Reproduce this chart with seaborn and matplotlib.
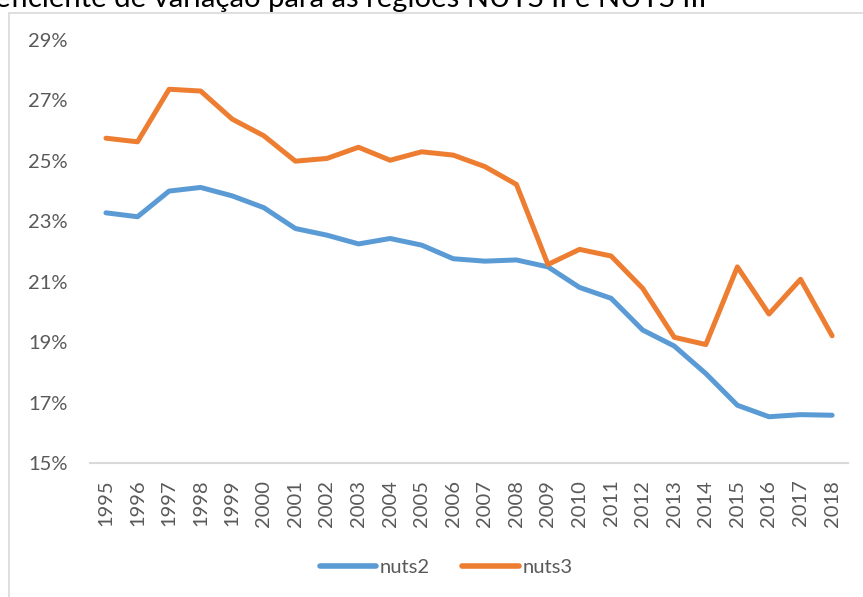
import pandas as pd
import matplotlib.pyplot as plt
import seaborn as sns
from matplotlib.patches import Rectangle

years = list(range(1995, 2019))
nuts2 = [23.28, 23.15, 24.00, 24.12, 23.84, 23.45, 22.76, 22.54, 22.25, 22.43, 22.21, 21.76,
         21.68, 21.72, 21.49, 20.81, 20.45, 19.40, 18.87, 17.96, 16.91, 16.53, 16.60, 16.58]
nuts3 = [25.75, 25.63, 27.37, 27.31, 26.38, 25.83, 24.99, 25.08, 25.45, 25.02, 25.30, 25.19,
         24.81, 24.22, 21.57, 22.07, 21.85, 20.78, 19.16, 18.92, 21.49, 19.93, 21.08, 19.21]
y_ticks = [15, 17, 19, 21, 23, 25, 27, 29]
title = "Coeficiente de variação para as regiões NUTS II e NUTS III"

df = pd.DataFrame({"ano": [str(y) for y in years] * 2,
                   "valor": nuts2 + nuts3,
                   "serie": ["nuts2"] * len(years) + ["nuts3"] * len(years)})

sns.set_style("white")
plt.rcParams["font.family"] = ["Lato", "DejaVu Sans"]
grey = "#595959"

f = plt.figure(figsize=(8.63, 5.97), dpi=100)
ax = f.add_axes([0.1045, 0.2245, 0.878, 0.7085])

sns.lineplot(data=df, x="ano", y="valor", hue="serie", palette=["#5B9BD5", "#ED7D31"],
             linewidth=3.6, sort=False, ax=ax)
for ln in ax.get_lines():
    ln.set_solid_capstyle("round")
    ln.set_solid_joinstyle("round")

ax.set_xlim(-0.5, len(years) - 0.5)
ax.set_ylim(15, 29)
ax.set_yticks(y_ticks)
ax.set_yticklabels([f"{t}%" for t in y_ticks])
ax.set_xlabel("")
ax.set_ylabel("")
ax.tick_params(axis="x", labelrotation=90, pad=12, length=0, labelsize=14.5, labelcolor=grey)
ax.tick_params(axis="y", pad=16, length=0, labelsize=14.5, labelcolor=grey)
for s in ["left", "right", "top"]:
    ax.spines[s].set_visible(False)
ax.spines["bottom"].set_color("#D9D9D9")
ax.spines["bottom"].set_linewidth(1.5)

leg = ax.legend(loc="center", bbox_to_anchor=(0.47, -0.246), ncol=2, frameon=False,
                fontsize=14.5, handlelength=2.8, handletextpad=0.2, columnspacing=1.6)
for t in leg.get_texts():
    t.set_color(grey)
for h in leg.get_lines():
    h.set_linewidth(4)
    h.set_solid_capstyle("round")

# chart area border, partly outside the image
f.patches.append(Rectangle((8.5 / 863, -0.05), 1.0, 1.05 - 12.5 / 597,
                           transform=f.transFigure, fill=False, edgecolor="#D9D9D9",
                           linewidth=1.2))
# title is cropped at the top edge in the original
f.text(707 / 863, 1 - 7.5 / 597, title, ha="right", va="baseline", fontsize=21.05, color="black")

plt.savefig("out.png", dpi=100)
